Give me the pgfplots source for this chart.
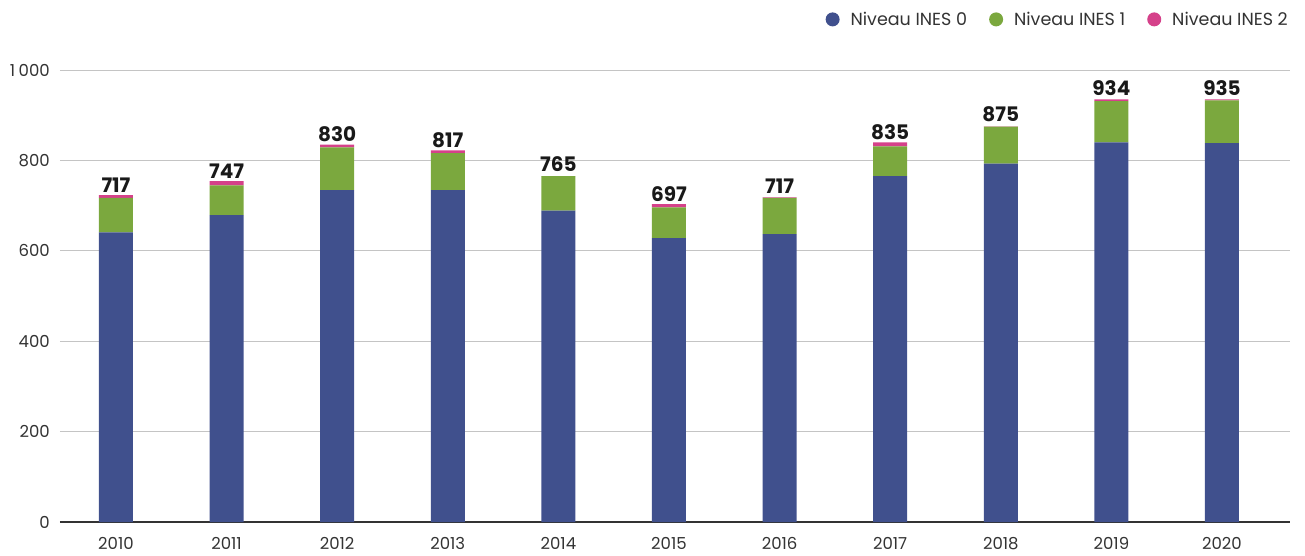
\documentclass[border=0pt]{standalone}
\usepackage{pgfplots}
\pgfplotsset{compat=1.18}
\usepackage{fontspec}
\setmainfont{Poppins}
\definecolor{cBlue}{HTML}{40508D}
\definecolor{cGreen}{HTML}{7BA83E}
\definecolor{cPink}{HTML}{D5418A}
\definecolor{cText}{HTML}{333333}
\definecolor{cGrid}{HTML}{C4C4C4}
\begin{document}
\begin{tikzpicture}
\begin{axis}[
  scale only axis, width=1230pt, height=452pt,
  ybar stacked, bar width=34pt,
  xmin=-0.506, xmax=10.615, ymin=0, ymax=1000,
  xtick={0,...,10},
  xticklabels={2010,2011,2012,2013,2014,2015,2016,2017,2018,2019,2020},
  ytick={0,200,400,600,800,1000},
  yticklabels={0,200,400,600,800,1\hspace{3.5pt}000},
  major tick length=0pt,
  axis x line*=bottom, axis y line*=left,
  y axis line style={draw=none},
  x axis line style={draw=black!80, line width=1.2pt},
  ymajorgrids, grid style={draw=cGrid, line width=0.9pt},
  tick label style={font=\fontsize{16.5}{17}\selectfont, text=cText},
  yticklabel style={inner sep=0pt, xshift=-10pt},
  xticklabel style={inner sep=0pt, yshift=-15pt},
  legend columns=3,
  legend style={draw=none, at={(1.0,1.0)}, anchor=south east, yshift=41pt,
    font=\fontsize{17.5}{18}\selectfont, text=cText, inner sep=0pt,
    /tikz/every odd column/.append style={column sep=9pt},
    /tikz/every even column/.append style={column sep=20pt}},
  legend image code/.code={\fill[#1] (0pt,0pt) circle (7pt);},
  nodes near coords style={font=\bfseries\fontsize{20}{20}\selectfont, text=black!90, anchor=south, yshift=1pt},
]
\addplot[fill=cBlue, draw=none] coordinates {(0,641) (1,679) (2,734) (3,734) (4,689) (5,628) (6,637) (7,765) (8,793) (9,840) (10,838)};
\addlegendentry{Niveau INES 0}
\addplot[fill=cGreen, draw=none] coordinates {(0,76) (1,66) (2,95) (3,82) (4,76) (5,68) (6,80) (7,66) (8,82) (9,91) (10,95)};
\addlegendentry{Niveau INES 1}
\addplot[fill=cPink, draw=none, nodes near coords, point meta=explicit symbolic] table[meta=lab] {
x y lab
0 6 717
1 9 747
2 6 830
3 6 817
4 0.01 765
5 7 697
6 1 717
7 9 835
8 0.01 875
9 4 934
10 2 935
};
\addlegendentry{Niveau INES 2}
\end{axis}
\path (current axis.south west) ++(-60pt,-33pt) coordinate (bbA);
\path (current axis.north east) ++(15pt,70pt) coordinate (bbB);
\path (bbA) rectangle (bbB);
\end{tikzpicture}
\end{document}
